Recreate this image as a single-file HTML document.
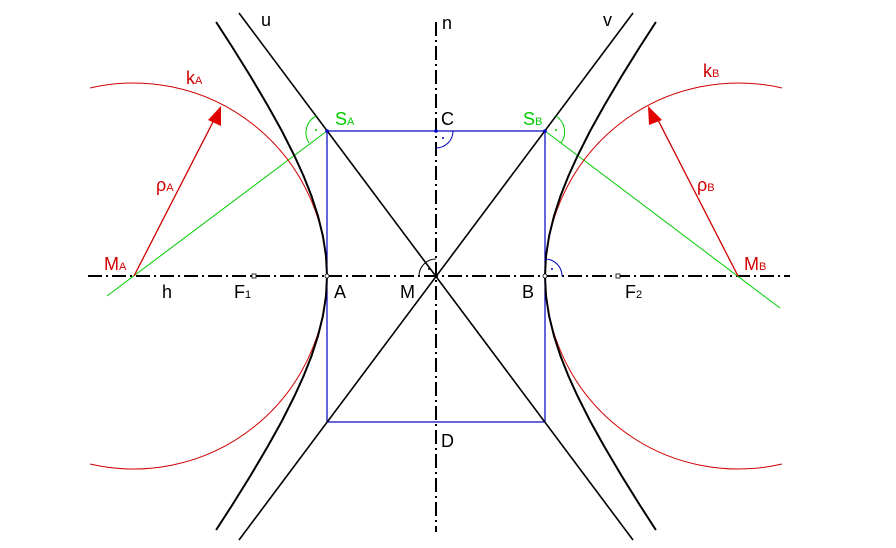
<!DOCTYPE html>
<html><head><meta charset="utf-8"><style>
html,body{margin:0;padding:0;background:#fff;}
svg{display:block;}
text{font-family:"Liberation Sans",Arial,sans-serif;font-size:18px;}
.s{font-size:11px;}
</style></head><body>
<svg width="896" height="548" viewBox="0 0 896 548" xmlns="http://www.w3.org/2000/svg">
<line x1="88" y1="276" x2="790" y2="276" stroke="#000" stroke-width="2" stroke-dasharray="14,4,2,4"/>
<line x1="436" y1="22" x2="436" y2="532" stroke="#000" stroke-width="2" stroke-dasharray="14,4,2,4"/>
<rect x="327" y="131" width="218" height="291" fill="none" stroke="#0000c0" stroke-width="1.2"/>
<line x1="239" y1="13" x2="633" y2="540" stroke="#000" stroke-width="1.6"/>
<line x1="633" y1="13" x2="239" y2="540" stroke="#000" stroke-width="1.6"/>
<line x1="107" y1="296" x2="327" y2="131" stroke="#00cc00" stroke-width="1"/>
<line x1="545" y1="131" x2="780" y2="308" stroke="#00cc00" stroke-width="1"/>
<path d="M90,88 A193,193 0 1 1 90,464" fill="none" stroke="#d00000" stroke-width="1"/>
<path d="M782,88 A193,193 0 1 0 782,464" fill="none" stroke="#d00000" stroke-width="1"/>
<g transform="translate(436,276)" fill="none" stroke="#000" stroke-width="2">
<path d="M219.9,-254 L204.4,-230 L185.7,-200 L168,-170 L154.1,-145 L141.5,-120 L132.4,-100 L124.5,-80 L118,-60 L113.1,-40 L110,-20 L109,0 L110,20 L113.1,40 L118,60 L124.5,80 L132.4,100 L141.5,120 L154.1,145 L168,170 L185.7,200 L204.4,230 L219.9,254"/>
<path transform="scale(-1,1)" d="M219.9,-254 L204.4,-230 L185.7,-200 L168,-170 L154.1,-145 L141.5,-120 L132.4,-100 L124.5,-80 L118,-60 L113.1,-40 L110,-20 L109,0 L110,20 L113.1,40 L118,60 L124.5,80 L132.4,100 L141.5,120 L154.1,145 L168,170 L185.7,200 L204.4,230 L219.9,254"/>
</g>
<line x1="134" y1="276" x2="214" y2="120" stroke="#d00000" stroke-width="1.3"/>
<polygon points="221,106 221,126 208,120" fill="#e00000"/>
<line x1="738" y1="276" x2="658" y2="120" stroke="#d00000" stroke-width="1.3"/>
<polygon points="648,106 662,120 649,125" fill="#e00000"/>
<path d="M309,143 A19,19 0 0 1 316,116" fill="none" stroke="#00cc00" stroke-width="1"/>
<circle cx="316" cy="130" r="1" fill="#00cc00"/>
<path d="M556,116 A19,19 0 0 1 561,143" fill="none" stroke="#00cc00" stroke-width="1"/>
<circle cx="556" cy="130" r="1" fill="#00cc00"/>
<path d="M453,131 A17,17 0 0 1 436,148" fill="none" stroke="#0000c0" stroke-width="1"/>
<circle cx="443" cy="138" r="1" fill="#0000c0"/>
<path d="M545,259 A17,17 0 0 1 562,276" fill="none" stroke="#0000c0" stroke-width="1"/>
<circle cx="552" cy="269" r="1" fill="#0000c0"/>
<path d="M419,276 A17,17 0 0 1 436,259" fill="none" stroke="#000" stroke-width="1"/>
<circle cx="429" cy="269" r="1" fill="#000"/>
<rect x="252" y="274" width="4" height="4" fill="#fff" stroke="#000" stroke-width="0.8"/>
<rect x="616" y="274" width="4" height="4" fill="#fff" stroke="#000" stroke-width="0.8"/>
<circle cx="327" cy="276" r="2" fill="#fff" stroke="#000" stroke-width="0.8"/>
<circle cx="545" cy="276" r="2" fill="#fff" stroke="#000" stroke-width="0.8"/>
<circle cx="327" cy="131" r="1.8" fill="#0000c0"/>
<circle cx="545" cy="131" r="1.8" fill="#0000c0"/>
<circle cx="436" cy="131" r="1.8" fill="#0000c0"/>
<text x="261" y="26">u</text>
<text x="442" y="29">n</text>
<text x="603" y="26">v</text>
<text x="186" y="84" fill="#d00000">k<tspan class="s">A</tspan></text>
<text x="703" y="77" fill="#d00000">k<tspan class="s">B</tspan></text>
<text x="335" y="125" fill="#00cc00">S<tspan class="s">A</tspan></text>
<text x="523" y="125" fill="#00cc00">S<tspan class="s">B</tspan></text>
<text x="441" y="125">C</text>
<text x="441" y="447">D</text>
<text x="156" y="191" fill="#d00000">ρ<tspan class="s">A</tspan></text>
<text x="697" y="191" fill="#d00000">ρ<tspan class="s">B</tspan></text>
<text x="104" y="270" fill="#d00000">M<tspan class="s">A</tspan></text>
<text x="744" y="270" fill="#d00000">M<tspan class="s">B</tspan></text>
<text x="162" y="298">h</text>
<text x="234" y="298">F<tspan class="s">1</tspan></text>
<text x="334" y="298">A</text>
<text x="400" y="298">M</text>
<text x="522" y="298">B</text>
<text x="625" y="298">F<tspan class="s">2</tspan></text>
</svg>
</body></html>
